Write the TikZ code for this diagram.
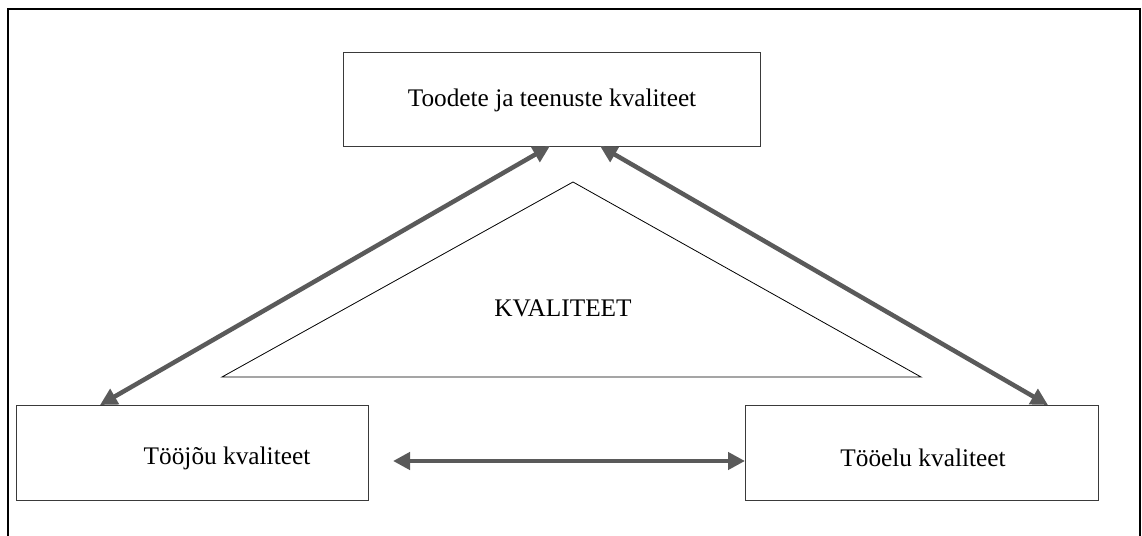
\documentclass[tikz,border=0pt]{standalone}
\usepackage{fontspec}
\setmainfont{Liberation Serif}
\usetikzlibrary{arrows.meta}
\definecolor{arr}{HTML}{5A5A5A}
\definecolor{boxc}{HTML}{3A3A3A}
\tikzset{
  box/.style={draw=boxc, line width=1.3bp, fill=white, inner sep=0pt},
  lbl/.style={font=\fontsize{25.4}{29}\selectfont},
  conn/.style={draw=arr, line width=4.5bp, {Triangle[length=17bp,width=17bp]}-{Triangle[length=17bp,width=17bp]}}
}
\begin{document}
\begin{tikzpicture}[x=1bp,y=-1bp]
\useasboundingbox (0,0) rectangle (1142,536);
\draw[black, line width=1.5bp] (8,540) -- (8,9) -- (1140,9) -- (1140,540);
\node[box, minimum width=417bp, minimum height=94bp, anchor=north west] (top) at (343,52) {};
\node[lbl] (toptxt) at (552,100) {Toodete ja teenuste kvaliteet};
\node[box, minimum width=352bp, minimum height=95bp, anchor=north west] (left) at (16,405) {};
\node[lbl] (lefttxt) at (227,458) {Tööjõu kvaliteet};
\node[box, minimum width=353bp, minimum height=95bp, anchor=north west] (right) at (745,405) {};
\node[lbl] (righttxt) at (923,458) {Tööelu kvaliteet};
\coordinate (apex) at (573,182);
\coordinate (bl) at (222,377);
\coordinate (br) at (921,377);
\draw[black, line width=0.8bp] (bl) -- (apex) -- (br) -- cycle;
\node[lbl] (k) at (563,308) {KVALITEET};
\coordinate (t1) at (550,146);
\coordinate (t2) at (600,146);
\coordinate (l1) at (100,405);
\coordinate (r1) at (1048,405);
\coordinate (h1) at (393,461);
\coordinate (h2) at (745,461);
\draw[conn] (t1) -- (l1);
\draw[conn] (t2) -- (r1);
\draw[conn] (h1) -- (h2);
\end{tikzpicture}
\end{document}
